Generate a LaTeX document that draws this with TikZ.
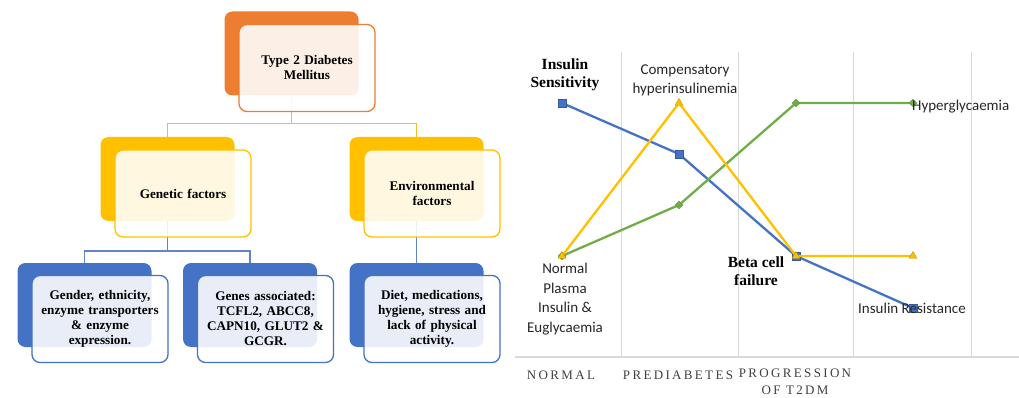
\documentclass[tikz,border=0pt]{standalone}
\usepackage{fontspec}
\setmainfont{Liberation Serif}
\newfontfamily\calfont{Carlito}
\newfontfamily\axisfont[LetterSpace=18]{Liberation Serif}
\usetikzlibrary{shapes.geometric}
\definecolor{corange}{HTML}{ED7D31}
\definecolor{cyellow}{HTML}{FFC000}
\definecolor{cblue}{HTML}{4472C4}
\definecolor{cgreen}{HTML}{70AD47}
\definecolor{cgrid}{HTML}{D9D9D9}
\definecolor{caxis}{HTML}{404040}
\definecolor{ctext}{HTML}{262626}
\definecolor{cyconn}{HTML}{F2BE2E}
\definecolor{cbconn}{HTML}{5F84C8}
\tikzset{
  backbox/.style={draw=none, fill=#1, rounded corners=8pt, minimum width=134pt, minimum height=84pt, inner sep=0pt},
  frontbox/.style={draw=#1, line width=1.3pt, fill=white, fill opacity=0.88, text opacity=1,
    rounded corners=8pt, minimum width=136pt, minimum height=87pt, align=center,
    font=\fontsize{13.2}{15}\selectfont\bfseries, text width=128pt, inner sep=2pt},
  yconn/.style={draw=cyconn, line width=1.3pt},
  bconn/.style={draw=cbconn, line width=1.2pt},
  grid line/.style={draw=cgrid, line width=0.9pt},
  series/.style={draw=#1, line width=2.3pt, line join=round},
  bmark/.style={rectangle, fill=cblue, draw=cblue!80!black, line width=0.4pt, minimum size=8pt, inner sep=0pt},
  ymark/.style={regular polygon, regular polygon sides=3, fill=cyellow, draw=cyellow!75!black, line width=0.4pt, minimum size=9pt, inner sep=0pt},
  gmark/.style={diamond, fill=cgreen, draw=cgreen!85!black, line width=0.4pt, minimum size=8pt, inner sep=0pt},
  boldlbl/.style={align=center, font=\fontsize{15.5}{18}\selectfont\bfseries, text=black, inner sep=0pt},
  sanslbl/.style={align=center, font=\calfont\fontsize{15}{19.5}\selectfont, text=ctext, inner sep=0pt},
  axislbl/.style={align=center, font=\axisfont\fontsize{13}{17}\selectfont, text=caxis, inner sep=0pt},
}
\begin{document}
\begin{tikzpicture}[x=1pt, y=-1pt]
\useasboundingbox (0,0) rectangle (1019,398);
% ---------- tree: back boxes ----------
\node[backbox=corange] (t0b) at (291.5,53.5) {};
\node[backbox=cyellow] (g0b) at (167.5,179) {};
\node[backbox=cyellow] (e0b) at (416.5,179) {};
\node[backbox=cblue] (b1b) at (84.5,305) {};
\node[backbox=cblue] (b2b) at (250,305) {};
\node[backbox=cblue] (b3b) at (416.5,305) {};
% ---------- connectors ----------
\coordinate (j1) at (291.5,123.5);
\coordinate (j2) at (167.5,251);
\draw[yconn] (t0b.south) -- (j1);
\draw[yconn] (j1) -| (g0b.north);
\draw[yconn] (j1) -| (e0b.north);
\draw[bconn] (g0b.south) -- (j2);
\draw[bconn] (j2) -| (b1b.north);
\draw[bconn] (j2) -| (b2b.north);
\draw[bconn] (e0b.south) -- (b3b.north);
% ---------- tree: front boxes ----------
\node[frontbox=corange] (t0) at (307,68) {Type 2 Diabetes\\Mellitus};
\node[frontbox=cyellow] (g0) at (183,193.5) {Genetic factors};
\node[frontbox=cyellow] (e0) at (432,193.5) {Environmental\\factors};
\node[frontbox=cblue] (b1) at (100,319) {Gender, ethnicity,\\enzyme transporters\\\&{} enzyme\\expression.};
\node[frontbox=cblue] (b2) at (265.5,319) {Genes associated:\\TCFL2, ABCC8,\\CAPN10, GLUT2 \&\\GCGR.};
\node[frontbox=cblue] (b3) at (432,319) {Diet, medications,\\hygiene, stress and\\lack of physical\\activity.};
% ---------- chart grid ----------
\foreach \gx in {621,738,853,971} {\draw[grid line] (\gx,52) -- (\gx,357);}
\draw[draw=cgrid, line width=1.3pt] (515,357) -- (1019,357);
% ---------- chart data ----------
\coordinate (bl1) at (562,103); \coordinate (bl2) at (679,154);
\coordinate (bl3) at (796,256); \coordinate (bl4) at (913,308);
\coordinate (gr1) at (562,256); \coordinate (gr2) at (679,205);
\coordinate (gr3) at (796,103); \coordinate (gr4) at (913,103);
\coordinate (yl1) at (562,256); \coordinate (yl2) at (679,103);
\coordinate (yl3) at (796,256); \coordinate (yl4) at (913,256);
\draw[series=cblue] (bl1) -- (bl2) -- (bl3) -- (bl4);
\node[bmark] (bm1) at (bl1) {}; \node[bmark] (bm2) at (bl2) {};
\node[bmark] (bm3) at (bl3) {}; \node[bmark] (bm4) at (bl4) {};
\draw[series=cgreen] (gr1) -- (gr2) -- (gr3) -- (gr4);
\node[gmark] (gm1) at (gr1) {}; \node[gmark] (gm2) at (gr2) {};
\node[gmark] (gm3) at (gr3) {}; \node[gmark] (gm4) at (gr4) {};
\draw[series=cyellow] (yl1) -- (yl2) -- (yl3) -- (yl4);
\node[ymark] (ym1) at (yl1) {}; \node[ymark] (ym2) at (yl2) {};
\node[ymark] (ym3) at (yl3) {}; \node[ymark] (ym4) at (yl4) {};
% ---------- chart labels ----------
\node[boldlbl] (lis) at (565,75) {Insulin\\Sensitivity};
\node[sanslbl] (lch) at (685,80.5) {Compensatory\\hyperinsulinemia};
\node[sanslbl, anchor=west] (lhy) at (912,107) {Hyperglycaemia};
\node[sanslbl] (lno) at (565,299) {Normal\\Plasma\\Insulin \&\\Euglycaemia};
\node[boldlbl] (lbc) at (756,271) {Beta cell\\failure};
\node[sanslbl] (lir) at (912,308) {Insulin Resistance};
\node[axislbl] (anorm) at (561,375) {NORMAL};
\node[axislbl] (apre) at (678,375) {PREDIABETES};
\node[axislbl, anchor=north] (aprog) at (795,369) {PROGRESSION\\OF T2DM};
\end{tikzpicture}
\end{document}
